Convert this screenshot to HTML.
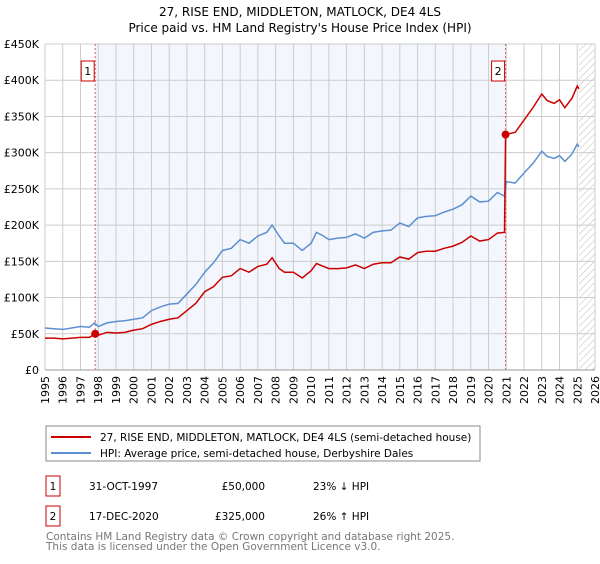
<!DOCTYPE html>
<html><head><meta charset="utf-8"><style>
body{margin:0;background:#fff;font-family:"DejaVu Sans","Liberation Sans",sans-serif;}
svg text{font-family:"DejaVu Sans","Liberation Sans",sans-serif;}
</style></head><body>
<svg id="c" width="600" height="560" xmlns="http://www.w3.org/2000/svg">
<defs><pattern id="hatch" width="5" height="5" patternUnits="userSpaceOnUse" patternTransform="rotate(45)"><line x1="0" y1="0" x2="0" y2="5" stroke="#bbb" stroke-width="1"/></pattern></defs>
<text x="300" y="16" text-anchor="middle" font-size="12">27, RISE END, MIDDLETON, MATLOCK, DE4 4LS</text>
<text x="300" y="32" text-anchor="middle" font-size="12">Price paid vs. HM Land Registry's House Price Index (HPI)</text>
<g id="plot"></g>
<g>
<rect x="46" y="426" width="434" height="35" fill="#fff" stroke="#888"/>
<line x1="51" y1="437" x2="91" y2="437" stroke="#cc0000" stroke-width="2"/>
<text x="100" y="441" font-size="10.5">27, RISE END, MIDDLETON, MATLOCK, DE4 4LS (semi-detached house)</text>
<line x1="51" y1="453" x2="91" y2="453" stroke="#5b8fd0" stroke-width="2"/>
<text x="100" y="457" font-size="10.5">HPI: Average price, semi-detached house, Derbyshire Dales</text>
</g>
<g font-size="10.5">
<rect x="46" y="476" width="14" height="20" fill="#fff" stroke="#cc0000"/><text x="53" y="490" text-anchor="middle">1</text>
<text x="89" y="490">31-OCT-1997</text><text x="265" y="490" text-anchor="end">£50,000</text><text x="313" y="490">23% ↓ HPI</text>
<rect x="46" y="506" width="14" height="20" fill="#fff" stroke="#cc0000"/><text x="53" y="520" text-anchor="middle">2</text>
<text x="89" y="520">17-DEC-2020</text><text x="265" y="520" text-anchor="end">£325,000</text><text x="313" y="520">26% ↑ HPI</text>
</g>
<text x="46" y="540" font-size="10.5" fill="#777">Contains HM Land Registry data © Crown copyright and database right 2025.</text>
<text x="46" y="550" font-size="10.5" fill="#777">This data is licensed under the Open Government Licence v3.0.</text>
</svg>
<script>
const hpiYears=[1995,1995.5,1996,1996.5,1997,1997.5,1997.8,1998,1998.5,1999,1999.5,2000,2000.5,2001,2001.5,2002,2002.5,2003,2003.5,2004,2004.5,2005,2005.5,2006,2006.5,2007,2007.5,2007.8,2008.2,2008.5,2009,2009.5,2010,2010.3,2010.7,2011,2011.5,2012,2012.5,2013,2013.5,2014,2014.5,2015,2015.5,2016,2016.5,2017,2017.5,2018,2018.5,2019,2019.5,2020,2020.5,2020.9,2021,2021.5,2022,2022.5,2023,2023.3,2023.7,2024,2024.3,2024.7,2025,2025.1];
const hpiValues=[58,57,56,58,60,59,65,60,65,67,68,70,72,82,87,91,92,105,118,135,148,165,168,180,175,185,190,200,185,175,175,165,175,190,185,180,182,183,188,182,190,192,193,203,198,210,212,213,218,222,228,240,232,233,245,240,260,258,272,285,302,295,292,296,288,298,312,308];
const priceYears=[1995,1995.5,1996,1996.5,1997,1997.5,1997.83,1998,1998.5,1999,1999.5,2000,2000.5,2001,2001.5,2002,2002.5,2003,2003.5,2004,2004.5,2005,2005.5,2006,2006.5,2007,2007.5,2007.8,2008.2,2008.5,2009,2009.5,2010,2010.3,2010.7,2011,2011.5,2012,2012.5,2013,2013.5,2014,2014.5,2015,2015.5,2016,2016.5,2017,2017.5,2018,2018.5,2019,2019.5,2020,2020.5,2020.9,2020.96,2021.5,2022,2022.5,2023,2023.3,2023.7,2024,2024.3,2024.7,2025,2025.1];
const priceValues=[44,44,43,44,45,45,50,48,52,51,52,55,57,63,67,70,72,82,92,108,115,128,130,140,135,143,146,155,140,135,135,127,137,147,143,140,140,141,145,140,146,148,148,156,153,162,164,164,168,171,176,185,178,180,189,190,325,328,345,362,381,372,368,373,362,375,392,388];
const saleYears=[1997.83,2020.96];
const saleValues=[50,325];
const saleLabels=["1","2"];
const yTicks=[0,50,100,150,200,250,300,350,400,450];
const yTickLabels=["£0","£50K","£100K","£150K","£200K","£250K","£300K","£350K","£400K","£450K"];
const xTicks=[1995,1996,1997,1998,1999,2000,2001,2002,2003,2004,2005,2006,2007,2008,2009,2010,2011,2012,2013,2014,2015,2016,2017,2018,2019,2020,2021,2022,2023,2024,2025,2026];

const L=45,R=595,T=44,B=370,x0=1995,x1=2026,yMax=450;
const X=v=>L+(v-x0)/(x1-x0)*(R-L);
const Y=v=>B-v/yMax*(B-T);
const NS="http://www.w3.org/2000/svg";
const g=document.getElementById('plot');
function mk(tag,attrs,parent){const e=document.createElementNS(NS,tag);for(const k in attrs)e.setAttribute(k,attrs[k]);(parent||g).appendChild(e);return e;}
let sh=mk('rect',{x:X(saleYears[0]),y:T,width:X(saleYears[1])-X(saleYears[0]),height:B-T,fill:'#f3f6fd'});


let ht=mk('rect',{x:X(2025.1),y:T,width:R-X(2025.1),height:B-T,fill:'url(#hatch)'});


xTicks.forEach((t,i)=>{
  let l=mk('line',{x1:X(t),x2:X(t),y1:T,y2:B,stroke:'#ccc','stroke-width':1});
  
  
  let tx=mk('text',{x:0,y:0,'font-size':11,'text-anchor':'end',transform:`translate(${X(t)+4},${B+6}) rotate(-90)`});
  tx.textContent=t;
  
  
});
yTicks.forEach((t,i)=>{
  let l=mk('line',{x1:L,x2:R,y1:Y(t),y2:Y(t),stroke:'#ccc','stroke-width':1});
  
  
  let tx=mk('text',{x:L-6,y:Y(t)+4,'font-size':11,'text-anchor':'end'});
  tx.textContent=yTickLabels[i];
  
  
});
saleYears.forEach((s,i)=>{
  let l=mk('line',{x1:X(s),x2:X(s),y1:T,y2:B,stroke:'#e06060','stroke-width':1,'stroke-dasharray':'2,2'});
  
  
  let r=mk('rect',{x:X(s)-14,y:61,width:13,height:20,fill:'#fff',stroke:'#cc0000'});
  
  
  let tx=mk('text',{x:X(s)-7.5,y:75,'font-size':11,'text-anchor':'middle'});
  tx.textContent=saleLabels[i];
  
  
});
let hp=mk('polyline',{points:hpiYears.map((y,i)=>X(y)+','+Y(hpiValues[i])).join(' '),fill:'none',stroke:'#5b8fd0','stroke-width':1.5});


let pp=mk('polyline',{points:priceYears.map((y,i)=>X(y)+','+Y(priceValues[i])).join(' '),fill:'none',stroke:'#cc0000','stroke-width':1.5});


saleYears.forEach((s,i)=>{
  let c=mk('circle',{cx:X(s),cy:Y(saleValues[i]),r:4,fill:'#cc0000'});
  
  
});
let ax=mk('line',{x1:L,x2:R,y1:B,y2:B,stroke:'#999'});


</script>
</body></html>
